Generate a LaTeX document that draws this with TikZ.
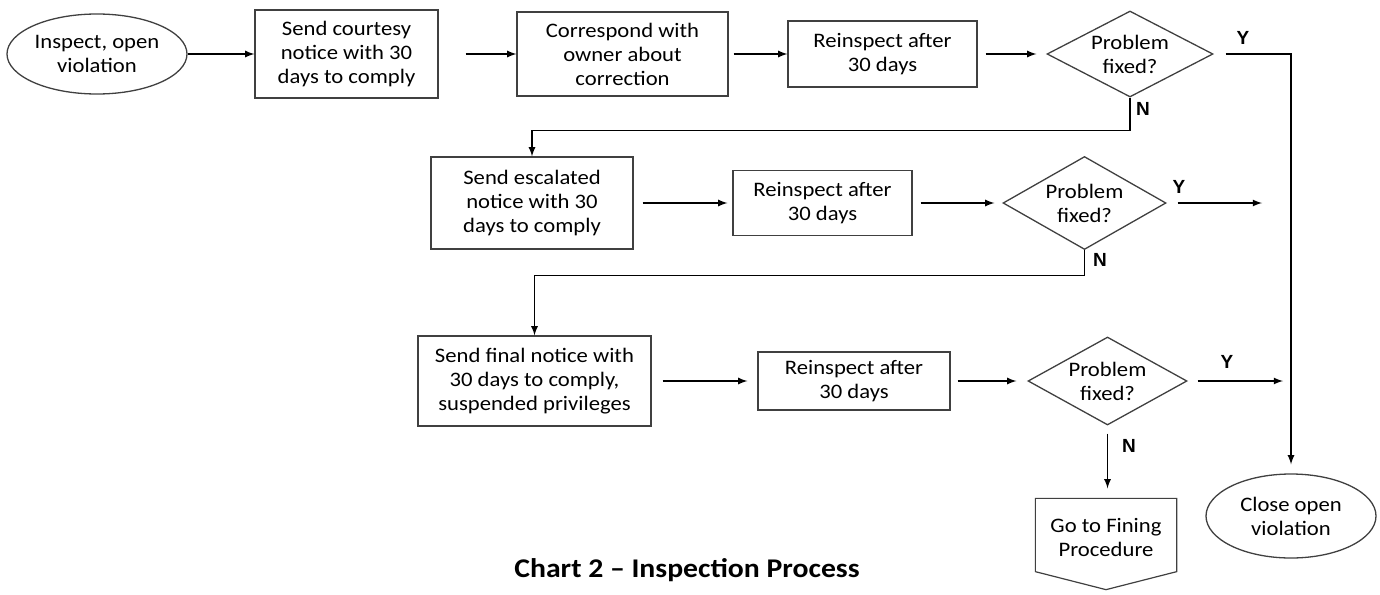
\documentclass[tikz,border=0pt]{standalone}
\usepackage{fontspec}
\setmainfont{Carlito}[FakeStretch=1.1]
\newfontfamily\ynfont{Liberation Sans}
\usetikzlibrary{arrows,shapes.geometric,calc}
\tikzset{box/.style={
            draw=black!75,
            line width=0.65pt,
            inner sep=0pt,
            align=center,
            font=\fontsize{10.3}{12}\selectfont
        },
        term/.style={
            box,
            ellipse
        },
        check/.style={
            box,
            diamond,
            aspect=1.9
        },
        flow/.style={
            ->,
            >=latex,
            line width=0.6pt
        },
        line/.style={
            line width=0.6pt
        },
        yn/.style={
            font=\ynfont\bfseries\fontsize{9.5}{10}\selectfont,
            inner sep=0pt
        }
    }
\begin{document}
\begin{tikzpicture}[x=0.5pt,y=-0.5pt]
        \useasboundingbox (0,0) rectangle (1380,594);

        % first row
        \node[term, minimum width=90pt, minimum height=40pt] (insp) at (97,54) {Inspect, open\\violation};
        \node[box, minimum width=91.5pt, minimum height=44pt] (courtesy) at (346.5,54) {Send courtesy\\notice with 30\\days to comply};
        \node[box, minimum width=105.5pt, minimum height=42pt] (corr) at (622.5,54) {Correspond with\\owner about\\correction};
        \node[box, minimum width=94.5pt, minimum height=33pt] (reinA) at (882.5,54) {Reinspect after\\30 days};
        \node[check, minimum width=83pt, minimum height=43pt] (fixA) at (1130,54) {Problem\\fixed?};

        % second row
        \node[box, minimum width=101pt, minimum height=46pt] (escal) at (532,203) {Send escalated\\notice with 30\\days to comply};
        \node[box, minimum width=89.5pt, minimum height=32.5pt] (reinB) at (822.5,203) {Reinspect after\\30 days};
        \node[check, minimum width=81.5pt, minimum height=46.5pt] (fixB) at (1084.5,203) {Problem\\fixed?};

        % third row
        \node[box, minimum width=116.5pt, minimum height=45pt] (final) at (534.5,381) {Send final notice with\\30 days to comply,\\suspended privileges};
        \node[box, minimum width=96pt, minimum height=29pt] (reinC) at (854,381) {Reinspect after\\30 days};
        \node[check, minimum width=79.5pt, minimum height=44pt] (fixC) at (1107.5,381) {Problem\\fixed?};

        % end points
        \node[term, minimum width=85pt, minimum height=42pt] (close) at (1291,516) {Close open\\violation};
        \node[box, draw=none, minimum width=70pt, minimum height=36pt] (fining) at (1106,537) {Go to Fining\\Procedure};
        \draw[line, draw=black!75] ($(fining.north west)+(0,-2)$) -- ($(fining.north east)+(0,-2)$) -- ($(fining.south east)+(0,-2)$)
            -- ($(fining.south)+(0,16)$) -- ($(fining.south west)+(0,-2)$) -- cycle;

        \coordinate (yesA) at (1291,54);
        \coordinate (yesB) at (1262,203);
        \coordinate (yesC) at (1283,381);

        % arrows
        \draw[flow] (insp) -- (courtesy);
        \draw[flow, shorten <=13.5pt] (courtesy) -- (corr);
        \draw[flow, shorten <=2.5pt] (corr) -- (reinA);
        \draw[flow, shorten <=4pt, shorten >=5pt] (reinA) -- (fixA);
        \draw[flow, shorten <=6pt, shorten >=4.5pt] (fixA.east) -- (yesA) -- (yesA |- close.north);
        \draw[flow] (fixA.south) -- ++(0,33) -| (escal.north);

        \draw[flow, shorten <=4.5pt, shorten >=2.5pt] (escal) -- (reinB);
        \draw[flow, shorten <=4pt, shorten >=4pt] (reinB) -- (fixB);
        \draw[flow, shorten <=5.5pt] (fixB.east) -- (yesB);
        \draw[flow] (fixB.south) -- ++(0,25) -| (final.north);

        \draw[flow, shorten <=5.5pt, shorten >=5pt] (final) -- (reinC);
        \draw[flow, shorten <=3.5pt, shorten >=5.5pt] (reinC) -- (fixC);
        \draw[flow, shorten <=5pt] (fixC.east) -- (yesC);
        \draw[flow, shorten <=4pt, shorten >=5pt] (fixC.south) -- ($(fixC.south |- fining.north)+(0,-2)$);

        % Y / N labels
        \node[yn] (yA) at (1243,38) {Y};
        \node[yn] (nA) at (1143,109) {N};
        \node[yn] (yB) at (1179,187) {Y};
        \node[yn] (nB) at (1100,260) {N};
        \node[yn] (yC) at (1227,362) {Y};
        \node[yn] (nC) at (1129,446) {N};

        \node[font=\bfseries\fontsize{13.5}{15}\selectfont] (title) at (687,570) {Chart 2 -- Inspection Process};

    \end{tikzpicture}
\end{document}
